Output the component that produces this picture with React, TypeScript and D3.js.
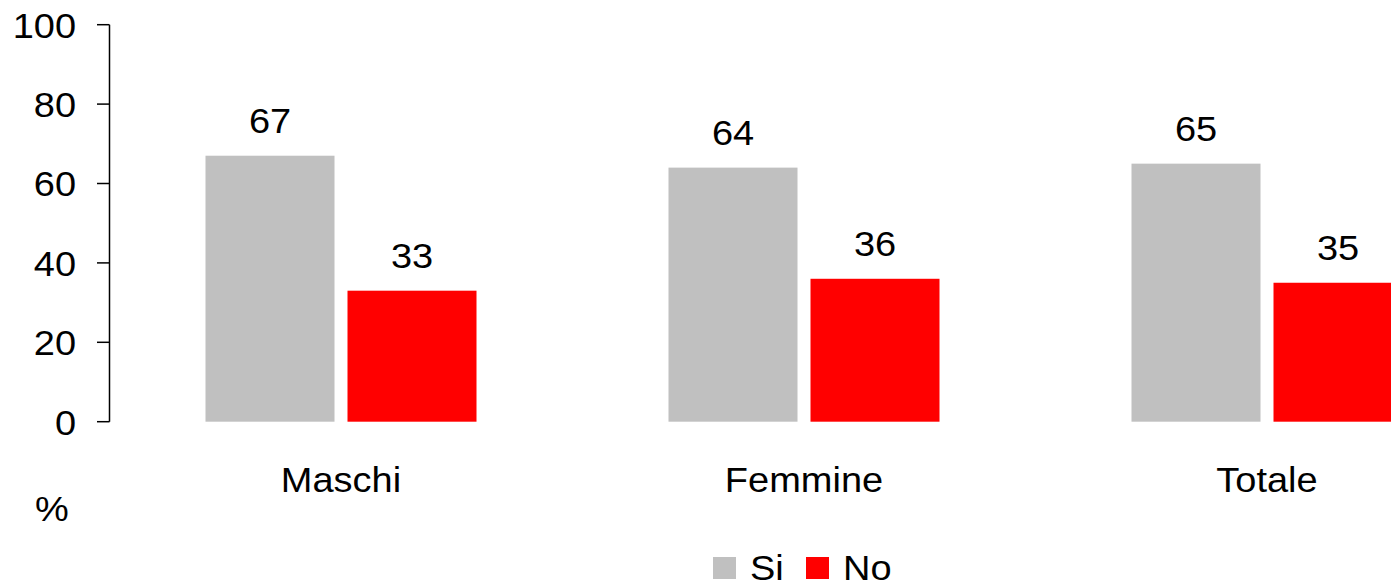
import React from "react";
import * as d3 from "d3";

const categories = ["Maschi", "Femmine", "Totale"];
const seriesNames = ["Si", "No"];
const siValues = [67, 64, 65];
const noValues = [33, 36, 35];
const yTicks = [0, 20, 40, 60, 80, 100];
const colors = ["#C0C0C0", "#FF0000"];

const W = 1391;
const H = 585;
const FONT = "Liberation Sans, Arial, sans-serif";
const SX = 1.055;

function T({ x, y, anchor, children, dy }: any) {
  return (
    <g transform={`translate(${x},${y}) scale(${SX},1)`}>
      <text x={0} y={0} dy={dy} textAnchor={anchor} fontSize={36} fill="#000">
        {children}
      </text>
    </g>
  );
}

export default function App() {
  const axisX = 109.5;
  const step = 463;
  const x = d3
    .scaleBand<string>()
    .domain(categories)
    .range([axisX, axisX + step * categories.length]);
  const groupPad = 96;
  const x1 = d3
    .scaleBand<string>()
    .domain(seriesNames)
    .range([groupPad, step - groupPad])
    .paddingInner(26 / 284);
  const y = d3.scaleLinear().domain([0, 100]).range([421.7, 24.7]);
  const series = [siValues, noValues];

  return (
    <svg
      width={W}
      height={H}
      style={{ position: "absolute", left: 0, top: 0, background: "#fff" }}
      fontFamily={FONT}
    >
      {categories.map((c, i) => (
        <g key={c}>
          {seriesNames.map((s, j) => {
            const v = series[j][i];
            const bx = (x(c) as number) + (x1(s) as number);
            const bw = x1.bandwidth();
            return (
              <g key={s}>
                <rect x={bx} y={y(v)} width={bw} height={y(0) - y(v)} fill={colors[j]} />
                <T x={bx + bw / 2} y={y(v) - 23} anchor="middle">
                  {v}
                </T>
              </g>
            );
          })}
          <T x={(x(c) as number) + step / 2} y={492} anchor="middle">
            {c}
          </T>
        </g>
      ))}
      <line x1={axisX} x2={axisX} y1={y(100)} y2={y(0)} stroke="#000" strokeWidth={1.5} />
      {yTicks.map((t) => (
        <g key={t}>
          <line x1={97} x2={axisX} y1={y(t)} y2={y(t)} stroke="#000" strokeWidth={1.5} />
          <T x={76} y={y(t)} dy="0.36em" anchor="end">
            {t}
          </T>
        </g>
      ))}
      <T x={52} y={521} anchor="middle">
        %
      </T>
      {seriesNames.map((s, j) => {
        const lx = j === 0 ? 713 : 806;
        return (
          <g key={s}>
            <rect x={lx} y={557} width={23} height={22} fill={colors[j]} />
            <T x={lx + 37} y={580} anchor="start">
              {s}
            </T>
          </g>
        );
      })}
    </svg>
  );
}
